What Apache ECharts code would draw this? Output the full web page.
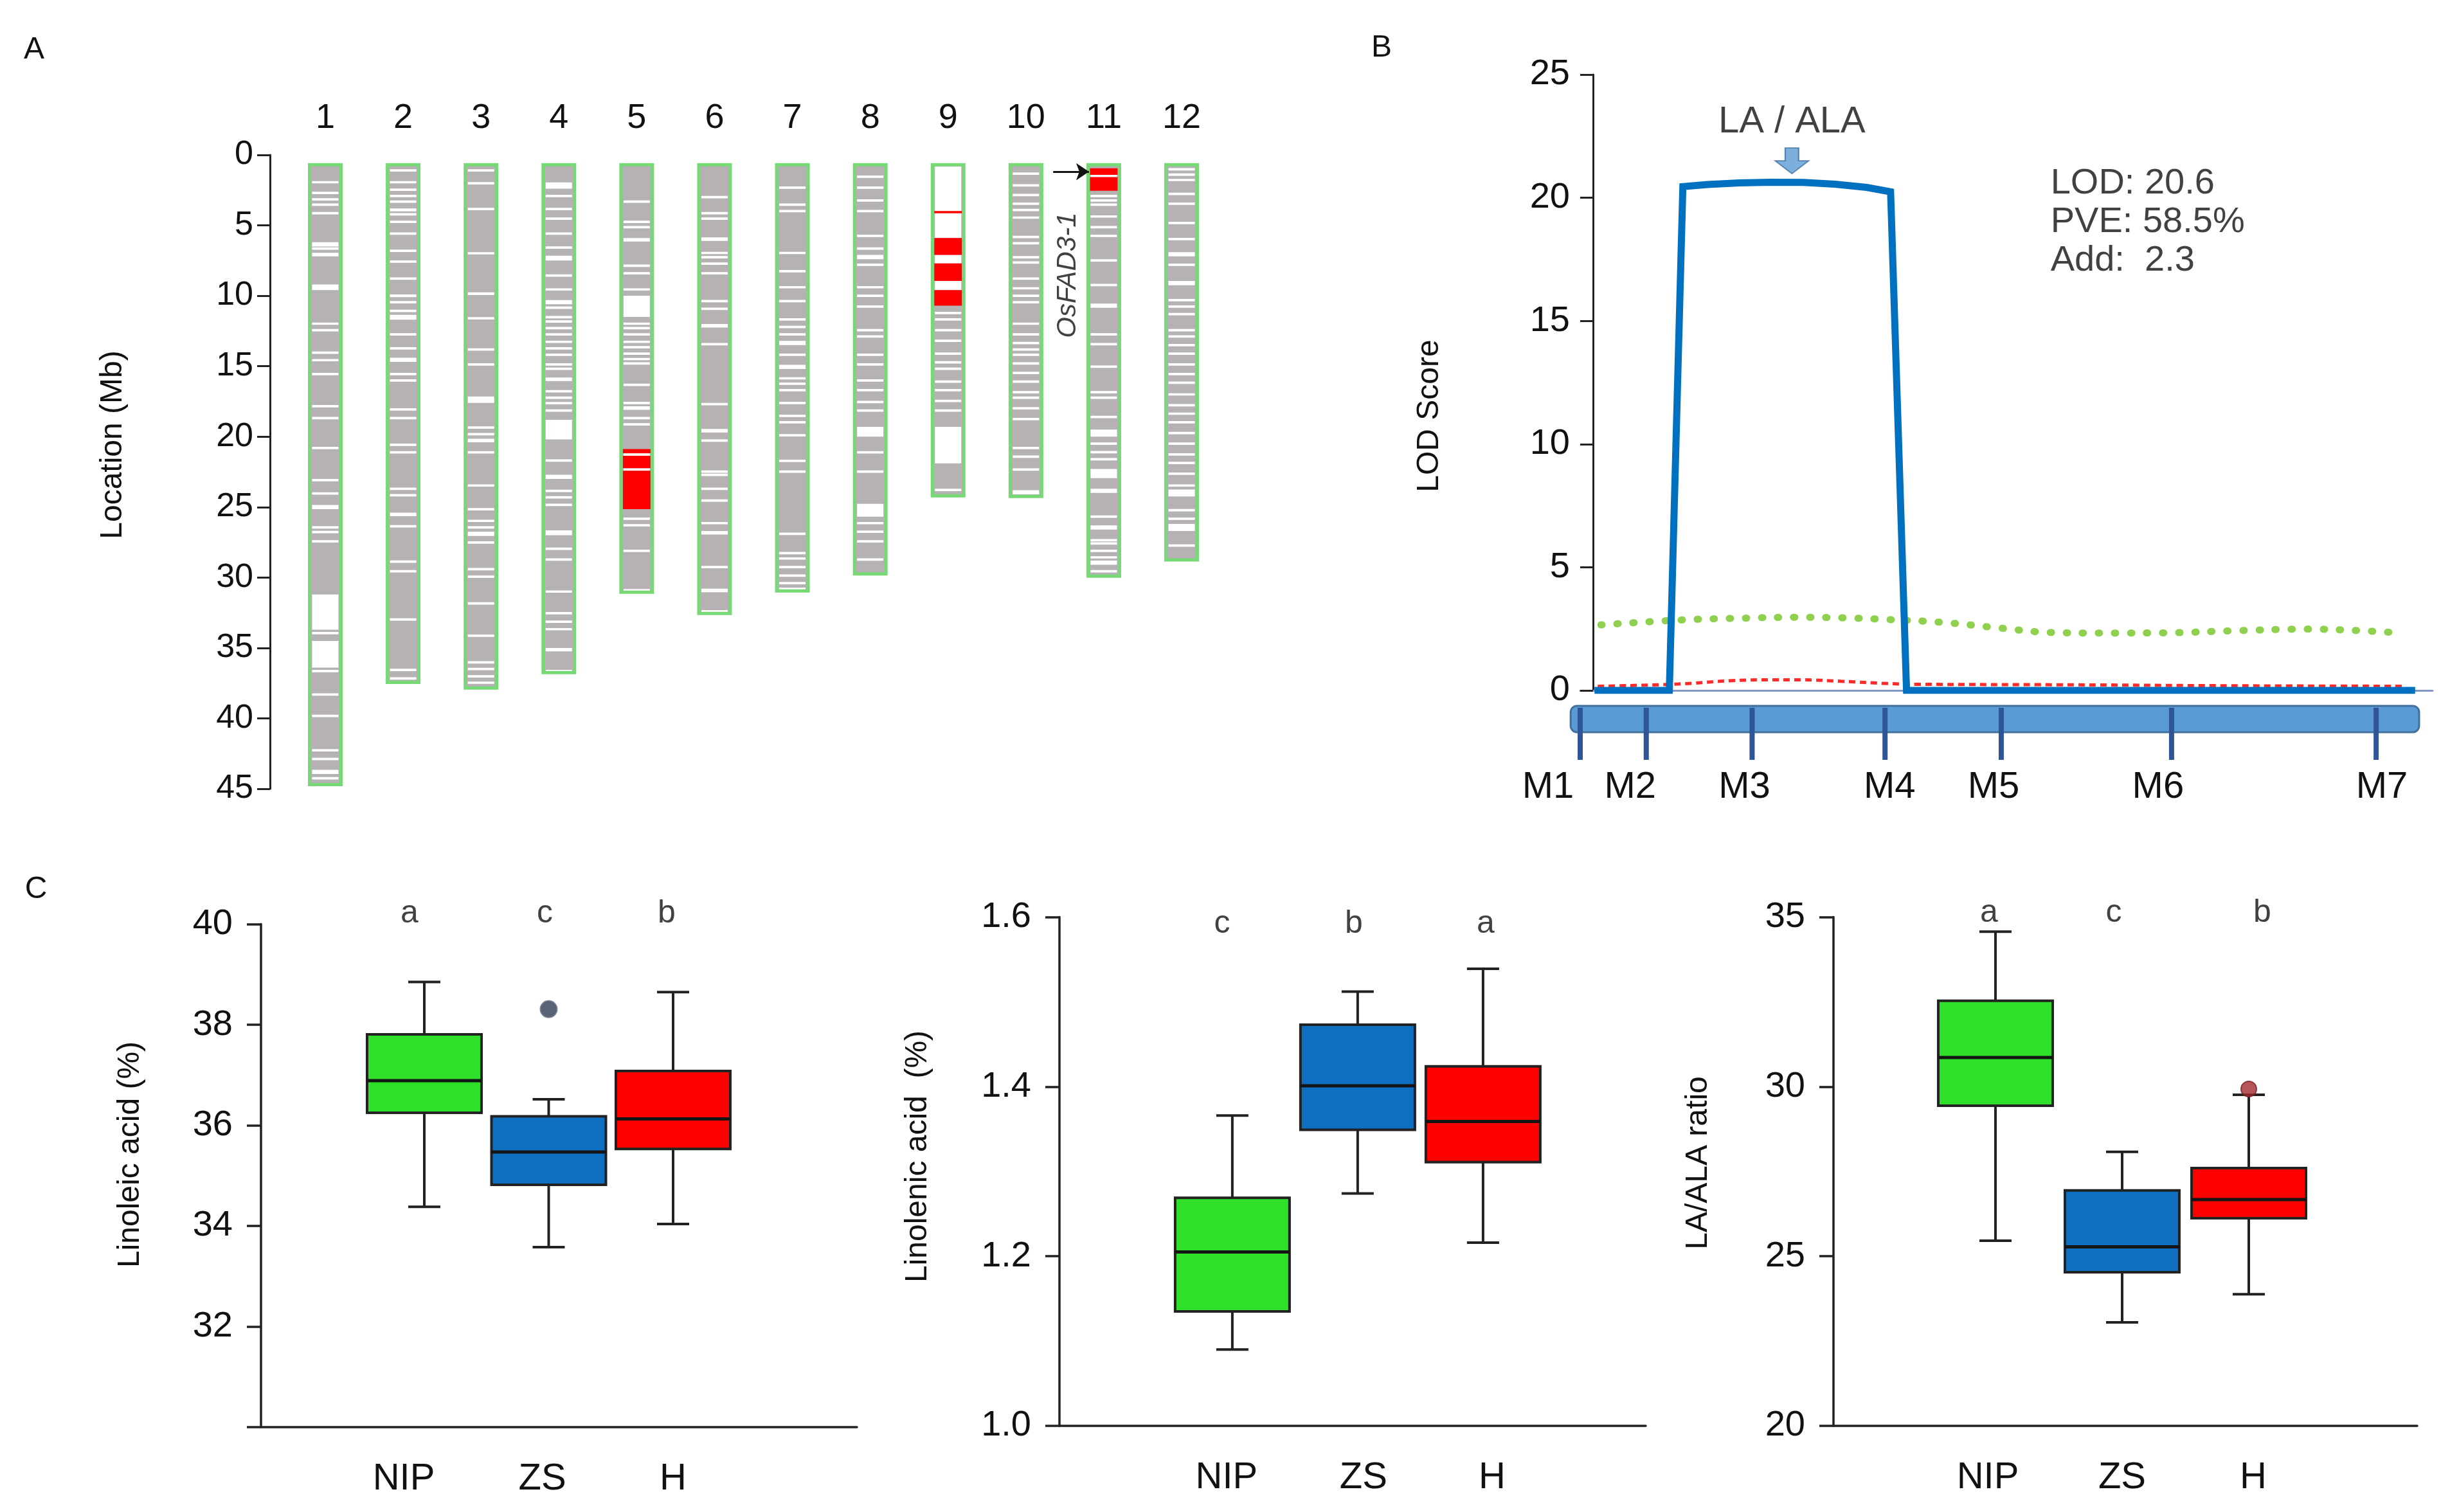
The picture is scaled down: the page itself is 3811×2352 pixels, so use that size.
<!DOCTYPE html>
<html><head><meta charset="utf-8">
<script src="https://cdn.jsdelivr.net/npm/echarts@6/dist/echarts.min.js"></script>
<style>html,body{margin:0;padding:0;background:#fff}#c{width:3811px;height:2352px}</style>
</head><body><div id="c"></div>
<script>
// ================= DATA =================
// ---- Panel A: chromosomes (Mb) ----
const chromNames = ['1','2','3','4','5','6','7','8','9','10','11','12'];
const chromStart = 0.7;
const chromEnd = [44.7, 37.45, 37.85, 36.75, 31.05, 32.55, 30.95, 29.75, 24.2, 24.25, 29.9, 28.75];
// white marker-gap stripes: single value = thin stripe centre, [a,b] = wider band
const stripesByChrom = [
 [1.94,2.70,3.15,3.53,4.14,[6.2,6.5],6.65,[6.95,7.2],[9.2,9.6],11.98,12.44,14.04,14.57,15.56,17.84,18.68,20.81,23.09,24.03,[24.85,25.15],26.44,26.77,27.43,[31.2,33.7],33.95,[34.5,36.4],36.64,38.31,39.83,42.27,42.88,[43.65,43.95],44.25],
 [1.10,1.94,2.47,2.92,3.31,[3.8,4.0],4.22,4.75,5.59,6.81,7.57,8.78,[9.9,10.1],10.46,11.07,[11.35,11.7],12.74,13.73,[14.4,14.7],15.56,16.01,18.07,18.68,20.58,21.11,23.7,24.16,[25.4,25.65],26.36,28.87,29.56,32.98,36.56,37.17],
 [1.10,2.01,3.84,[6.9,7.05],[9.75,9.95],11.60,13.81,14.87,[17.15,17.6],19.36,19.82,[20.15,20.4],21.11,23.47,25.15,25.98,26.44,[26.75,27.05],27.51,29.41,29.94,31.84,34.13,36.03,36.49,37.02,37.47],
 [[1.95,2.4],2.92,3.84,4.52,5.59,6.58,[7.15,7.5],8.56,9.55,[10.3,10.6],10.84,11.52,11.83,12.29,12.74,13.27,13.73,14.19,14.87,15.18,[15.8,16.05],16.78,17.23,17.62,18.15,[18.8,20.2],21.7,[22.7,23.0],23.85,24.31,24.84,[26.65,27.0],27.96,28.72,31.0,32.53,33.14,33.67,[35.0,35.25],36.64],
 [3.31,4.75,5.13,[5.9,6.15],7.87,8.40,9.55,[10.0,11.5],11.98,12.29,12.74,13.27,13.65,14.11,14.49,14.80,16.32,17.61,[17.85,18.1],18.68,19.13,21.27,22.33,25.83,26.29,28.11,30.9],
 [3.0,4.14,4.52,[5.85,6.1],6.96,7.26,7.72,8.40,10.38,10.92,[12.0,12.25],13.43,17.69,[19.45,19.7],20.28,22.48,22.71,23.7,24.54,26.14,[26.7,26.95],29.26,[30.8,31.05],32.4],
 [2.32,3.53,3.99,6.96,8.25,9.39,10.38,11.68,12.21,12.74,[13.2,13.5],14.19,[14.9,15.2],15.86,16.24,16.7,17.61,18.52,18.98,19.9,21.72,22.48,26.9,28.27,28.65,29.26,29.87,30.4,30.8],
 [1.55,2.32,3.23,3.99,5.74,6.65,[7.1,7.4],7.8,9.39,10.0,10.76,12.44,12.89,14.19,14.87,16.01,16.7,17.54,18.15,[19.3,20.0],21.11,22.48,[24.77,25.68],26.14,26.75,27.43,28.72],
 [[0.82,5.9],[7.1,7.7],[8.95,9.6],11.22,11.68,12.44,13.2,14.11,14.72,15.18,16.09,16.7,17.46,18.15,[19.3,21.9],23.78],
 [1.33,2.16,2.85,3.46,3.91,4.45,5.82,6.27,7.26,7.64,8.78,9.47,10.0,10.46,11.98,12.74,13.35,13.81,14.19,14.8,15.48,16.09,16.85,17.23,17.99,18.75,20.81,21.42,22.33,[23.8,24.1]],
 [1.5,2.92,3.23,3.53,4.37,5.13,5.74,7.49,9.24,[10.55,10.85],12.74,13.43,15.03,16.85,17.23,18.6,[19.5,20.0],20.5,21.1,21.6,[22.3,22.95],[23.7,24.0],25.68,[26.3,26.6],27.35,27.58,28.11,28.57,[28.8,29.1],29.56],
 [1.02,1.4,1.78,2.77,3.46,4.83,5.97,[6.9,7.2],7.8,[8.95,9.25],10.31,10.76,11.3,12.44,12.89,13.5,14.11,14.87,15.56,16.17,17.0,17.77,18.37,18.98,19.74,20.5,21.26,21.87,22.63,23.47,[23.75,24.25],25.22,25.83,[26.2,26.7],27.73]
];
const thinStripeHalf = 0.085;
// red (ZS introgression) segments: [chromosome, start, end]
const introgressions = [[5,20.88,21.18],[5,21.36,22.24],[5,22.42,25.15],[9,3.98,4.12],[9,5.9,7.1],[9,7.7,8.95],[9,9.6,10.7],[11,0.95,1.42],[11,1.58,2.54]];
const geneName = 'OsFAD3-1';
const geneArrowFrom = [10.35, 1.19];
const geneArrowTo = [10.81, 1.19];
const geneLabelAt = [10.54, 8.54];

// ---- Panel B: QTL LOD profile ----
const markerNames = ['M1','M2','M3','M4','M5','M6','M7'];
const markerPos = [0, 8.3, 21.6, 38.3, 52.9, 74.3, 100];
const barExtent = [-1.2, 105.4];
const lodPos = [1.8, 11.2, 12.9, 16, 20, 24, 28, 32, 36, 39.0, 41.0, 104.9];
const lodVal = [0, 0, 20.45, 20.54, 20.6, 20.63, 20.62, 20.55, 20.42, 20.24, 0, 0];
const greenPos = [2.6, 12.7, 20, 27.1, 33, 38.5, 45.2, 52.9, 58.6, 66, 74, 82, 91.3, 97, 102.7];
const greenVal = [2.66, 2.86, 2.93, 2.97, 2.95, 2.88, 2.77, 2.53, 2.36, 2.33, 2.34, 2.42, 2.49, 2.44, 2.34];
const redPos = [2.2, 12.3, 19.1, 24.2, 27.8, 32.8, 38.6, 42.2, 60.3, 81.8, 103.5];
const redVal = [0.17, 0.26, 0.40, 0.43, 0.43, 0.37, 0.28, 0.25, 0.23, 0.19, 0.17];
const peakLabel = 'LA / ALA';
const peakArrowAt = [26.6, 21.5];
const statLines = ['LOD: 20.6', 'PVE: 58.5%', 'Add:  2.3'];
const statAt = [59.1, 19.02];

// ---- Panel C: box plots [min, Q1, median, Q3, max] ----
const groups = ['NIP', 'ZS', 'H'];
const linoleicBox = [[34.38, 36.25, 36.89, 37.81, 38.85], [33.58, 34.82, 35.47, 36.18, 36.52], [34.04, 35.53, 36.13, 37.08, 38.65]];
const linoleicOutliers = [[2, 38.31]];
const linoleicLetters = ['a', 'c', 'b'];
const linolenicBox = [[1.090, 1.135, 1.205, 1.269, 1.366], [1.274, 1.349, 1.401, 1.473, 1.512], [1.216, 1.311, 1.359, 1.424, 1.539]];
const linolenicLetters = ['c', 'b', 'a'];
const ratioBox = [[25.46, 29.44, 30.86, 32.53, 34.57], [23.05, 24.53, 25.28, 26.94, 28.08], [23.88, 26.12, 26.67, 27.60, 29.76]];
const ratioOutliers = [[3, 29.93]];
const ratioLetters = ['a', 'c', 'b'];

// ================= STYLE / BUILD =================
const FONT = 'Liberation Sans, Arial, sans-serif';
const INK = '#111111';
const boxColors = ['#2ee02a', '#0e6fc1', '#ff0000'];
// small horizontal nudges (px) of text relative to box centres, as in the figure
const catShift = [[-32, -10, 0], [-9, 9, 14], [-12, 0, 7]];
const letterShift = [[-23, -6, -10], [-16, -6, 4], [-10, -13, 21]];

const stripeData = [];
stripesByChrom.forEach((arr, i) => arr.forEach(s => {
  const r = Array.isArray(s) ? s : [s - thinStripeHalf, s + thinStripeHalf];
  stripeData.push([i + 1, r[0], r[1]]);
}));
const chromData = chromEnd.map((e, i) => [i + 1, chromStart, e]);

function segRect(width, style) {
  return function (params, api) {
    const x = api.value(0);
    const p1 = api.coord([x, api.value(1)]);
    const p2 = api.coord([x, api.value(2)]);
    const y = Math.min(p1[1], p2[1]);
    const h = Math.max(Math.abs(p2[1] - p1[1]), 3.5);
    return { type: 'rect', shape: { x: p1[0] - width / 2, y: y, width: width, height: h }, style: style };
  };
}

function boxItem(params, api) {
  const x = api.value(0);
  const pts = [1, 2, 3, 4, 5].map(i => api.coord([x, api.value(i)]));
  const cx = pts[0][0];
  const hw = 89, cw = 25;
  const ls = { stroke: '#222', lineWidth: 4 };
  const [pMin, pQ1, pMed, pQ3, pMax] = pts;
  return {
    type: 'group', children: [
      { type: 'line', shape: { x1: cx, y1: pQ3[1], x2: cx, y2: pMax[1] }, style: ls },
      { type: 'line', shape: { x1: cx, y1: pQ1[1], x2: cx, y2: pMin[1] }, style: ls },
      { type: 'line', shape: { x1: cx - cw, y1: pMax[1], x2: cx + cw, y2: pMax[1] }, style: ls },
      { type: 'line', shape: { x1: cx - cw, y1: pMin[1], x2: cx + cw, y2: pMin[1] }, style: ls },
      { type: 'rect', shape: { x: cx - hw, y: pQ3[1], width: 2 * hw, height: pQ1[1] - pQ3[1] }, style: { fill: boxColors[params.dataIndex], stroke: '#222', lineWidth: 4 } },
      { type: 'line', shape: { x1: cx - hw, y1: pMed[1], x2: cx + hw, y2: pMed[1] }, style: { stroke: '#141414', lineWidth: 5 } }
    ]
  };
}

function shiftRich(shifts, fontSize) {
  const r = {};
  shifts.forEach((s, i) => {
    r['m' + i] = { fontSize: fontSize, fontFamily: FONT, color: INK, padding: s < 0 ? [0, -2 * s, 0, 0] : [0, 0, 0, 2 * s] };
  });
  return r;
}
const mShift = [-50, -25, -12, 7, -12, -21, 9];

function yAxisC(grid, min, max, interval, fmt) {
  return {
    gridIndex: grid, type: 'value', min: min, max: max, interval: interval,
    axisLine: { show: true, onZero: false, lineStyle: { color: '#222', width: 3.5 } },
    axisTick: { show: true, length: 22, lineStyle: { color: '#222', width: 3.5 } },
    splitLine: { show: false },
    axisLabel: { fontSize: 56, color: INK, fontFamily: FONT, margin: 44, formatter: fmt }
  };
}
function xAxisC(grid, min, max, k) {
  return {
    gridIndex: grid, type: 'value', min: min, max: max,
    axisLine: { show: true, onZero: false, lineStyle: { color: '#222', width: 3.5 } },
    axisTick: { show: false }, splitLine: { show: false },
    axisLabel: { customValues: [1, 2, 3], formatter: v => { const i = Math.round(v) - 1; return '{m' + i + '|' + groups[i] + '}'; },
      rich: shiftRich(catShift[k], 58), margin: 52 }
  };
}
function boxSeries(axis, box) {
  return { type: 'custom', xAxisIndex: axis, yAxisIndex: axis, renderItem: boxItem, encode: { x: 0, y: [1, 2, 3, 4, 5] },
    data: box.map((b, i) => [i + 1].concat(b)), z: 3 };
}
function letterSeries(axis, letters, yv, k) {
  return { type: 'scatter', xAxisIndex: axis, yAxisIndex: axis, symbolSize: 0, clip: false, silent: true,
    data: letters.map((l, i) => ({ value: [i + 1, yv], label: { offset: [letterShift[k][i], 0] } })),
    label: { show: true, position: 'inside', formatter: p => letters[p.dataIndex], fontSize: 50, color: INK, fontFamily: FONT } };
}

const option = {
  animation: false,
  backgroundColor: '#ffffff',
  textStyle: { fontFamily: FONT, color: INK },
  grid: [
    { left: 420, top: 241, width: 1478.6, height: 986, outerBoundsMode: 'none' },
    { left: 2458, top: 116, width: 1326, height: 958, outerBoundsMode: 'none' },
    { left: 406, top: 1437.6, width: 927, height: 782.4, outerBoundsMode: 'none' },
    { left: 1648, top: 1426.5, width: 912, height: 791.5, outerBoundsMode: 'none' },
    { left: 2852, top: 1426.5, width: 908, height: 791.5, outerBoundsMode: 'none' }
  ],
  xAxis: [
    { gridIndex: 0, type: 'value', min: 0.29, max: 12.5, position: 'top',
      axisLine: { show: false, onZero: false }, axisTick: { show: false }, splitLine: { show: false },
      axisLabel: { customValues: [1,2,3,4,5,6,7,8,9,10,11,12], formatter: v => chromNames[Math.round(v) - 1], fontSize: 54, color: INK, fontFamily: FONT, margin: 30 } },
    { gridIndex: 1, type: 'value', min: 0, max: 107.1,
      axisLine: { show: true, onZero: false, lineStyle: { color: '#8497c8', width: 3 } },
      axisTick: { show: false }, splitLine: { show: false },
      axisLabel: { customValues: markerPos, showMinLabel: true, showMaxLabel: true,
        formatter: v => { const i = markerPos.indexOf(v); return '{m' + i + '|' + markerNames[i] + '}'; },
        rich: shiftRich(mShift, 58), margin: 122 } },
    xAxisC(2, -0.3127, 4.478, 0),
    xAxisC(3, -0.379, 4.298, 1),
    xAxisC(4, -0.279, 4.330, 2)
  ],
  yAxis: [
    { gridIndex: 0, type: 'value', inverse: true, min: 0, max: 45, interval: 5,
      axisLine: { show: true, onZero: false, lineStyle: { color: '#222', width: 3 } },
      axisTick: { show: true, length: 20, lineStyle: { color: '#222', width: 3 } },
      splitLine: { show: false },
      axisLabel: { fontSize: 52, color: INK, fontFamily: FONT, margin: 26 } },
    { gridIndex: 1, type: 'value', min: 0, max: 25, interval: 5, offset: -20,
      axisLine: { show: true, onZero: false, lineStyle: { color: '#222', width: 3 } },
      axisTick: { show: true, length: 20, lineStyle: { color: '#222', width: 3 } },
      splitLine: { show: false },
      axisLabel: { fontSize: 56, color: INK, fontFamily: FONT, margin: 36 } },
    yAxisC(2, 30, 40, 2, v => (v === 30 ? '' : String(v))),
    yAxisC(3, 1.0, 1.6, 0.2, v => v.toFixed(1)),
    yAxisC(4, 20, 35, 5, v => String(v))
  ],
  graphic: [
    { type: 'text', x: 53, y: 78, style: { text: 'A', fontSize: 48, fontFamily: FONT, fill: INK, textAlign: 'center', textVerticalAlign: 'middle' } },
    { type: 'text', x: 2149, y: 75, style: { text: 'B', fontSize: 48, fontFamily: FONT, fill: INK, textAlign: 'center', textVerticalAlign: 'middle' } },
    { type: 'text', x: 56, y: 1384, style: { text: 'C', fontSize: 48, fontFamily: FONT, fill: INK, textAlign: 'center', textVerticalAlign: 'middle' } },
    { type: 'text', x: 176, y: 692, rotation: Math.PI / 2, style: { text: 'Location (Mb)', fontSize: 48, fontFamily: FONT, fill: INK, textAlign: 'center', textVerticalAlign: 'middle' } },
    { type: 'text', x: 2224, y: 647, rotation: Math.PI / 2, style: { text: 'LOD Score', fontSize: 48, fontFamily: FONT, fill: INK, textAlign: 'center', textVerticalAlign: 'middle' } },
    { type: 'text', x: 203, y: 1796, rotation: Math.PI / 2, style: { text: 'Linoleic acid (%)', fontSize: 48, fontFamily: FONT, fill: INK, textAlign: 'center', textVerticalAlign: 'middle' } },
    { type: 'text', x: 1428, y: 1799, rotation: Math.PI / 2, style: { text: 'Linolenic acid  (%)', fontSize: 48, fontFamily: FONT, fill: INK, textAlign: 'center', textVerticalAlign: 'middle' } },
    { type: 'text', x: 2642, y: 1809, rotation: Math.PI / 2, style: { text: 'LA/ALA ratio', fontSize: 48, fontFamily: FONT, fill: INK, textAlign: 'center', textVerticalAlign: 'middle' } }
  ],
  series: [
    // ---- Panel A ----
    { type: 'custom', xAxisIndex: 0, yAxisIndex: 0, encode: { x: 0, y: [1, 2] }, data: chromData,
      renderItem: segRect(49, { fill: '#b6b2b4' }), z: 2 },
    { type: 'custom', xAxisIndex: 0, yAxisIndex: 0, encode: { x: 0, y: [1, 2] }, data: stripeData,
      renderItem: segRect(41, { fill: '#ffffff' }), z: 3 },
    { type: 'custom', xAxisIndex: 0, yAxisIndex: 0, encode: { x: 0, y: [1, 2] }, data: introgressions,
      renderItem: segRect(43, { fill: '#ff0000' }), z: 4 },
    { type: 'custom', xAxisIndex: 0, yAxisIndex: 0, encode: { x: 0, y: [1, 2] }, data: chromData,
      renderItem: segRect(49, { fill: 'none', stroke: '#76d976', lineWidth: 5 }), z: 5 },
    { type: 'lines', coordinateSystem: 'cartesian2d', xAxisIndex: 0, yAxisIndex: 0, z: 6,
      symbol: ['none', 'arrow'], symbolSize: 20,
      lineStyle: { color: '#111', width: 3, opacity: 1 },
      data: [{ coords: [geneArrowFrom, geneArrowTo] }] },
    { type: 'scatter', xAxisIndex: 0, yAxisIndex: 0, symbolSize: 0, clip: false, silent: true, data: [geneLabelAt], z: 6,
      label: { show: true, position: 'inside', rotate: 90, formatter: geneName, fontStyle: 'italic', fontSize: 42, color: INK, fontFamily: FONT } },

    // ---- Panel B ----
    { type: 'custom', xAxisIndex: 1, yAxisIndex: 1, data: [barExtent], z: 1,
      renderItem: function (params, api) {
        const p1 = api.coord([api.value(0), 0]);
        const p2 = api.coord([api.value(1), 0]);
        return { type: 'rect', shape: { x: p1[0], y: p1[1] + 24, width: p2[0] - p1[0], height: 41, r: 10 },
          style: { fill: '#5b9bd5', stroke: '#41719c', lineWidth: 3 } };
      } },
    { type: 'custom', xAxisIndex: 1, yAxisIndex: 1, data: markerPos.map(p => [p, 0]), z: 2,
      renderItem: function (params, api) {
        const p = api.coord([api.value(0), 0]);
        return { type: 'line', shape: { x1: p[0], y1: p[1] + 27, x2: p[0], y2: p[1] + 108 },
          style: { stroke: '#2f5597', lineWidth: 8 } };
      } },
    { type: 'line', xAxisIndex: 1, yAxisIndex: 1, showSymbol: false, smooth: 0.4, z: 3,
      data: greenPos.map((p, i) => [p, greenVal[i]]),
      lineStyle: { color: '#8fd14f', width: 11, type: [2, 23], cap: 'round' } },
    { type: 'line', xAxisIndex: 1, yAxisIndex: 1, showSymbol: false, smooth: 0.4, z: 3,
      data: redPos.map((p, i) => [p, redVal[i]]),
      lineStyle: { color: '#ff2a2a', width: 5, type: [10, 7] } },
    { type: 'line', xAxisIndex: 1, yAxisIndex: 1, showSymbol: false, z: 4,
      data: lodPos.map((p, i) => [p, lodVal[i]]),
      lineStyle: { color: '#0070c0', width: 11, join: 'miter' } },
    { type: 'scatter', xAxisIndex: 1, yAxisIndex: 1, clip: false, silent: true, z: 5,
      symbol: 'path://M30,0 L70,0 L70,50 L100,50 L50,100 L0,50 L30,50 Z', symbolSize: [52, 40],
      itemStyle: { color: '#5b9bd5', borderColor: '#41719c', borderWidth: 2 },
      data: [peakArrowAt],
      label: { show: true, position: 'top', distance: 10, formatter: peakLabel, fontSize: 58, color: INK, fontFamily: FONT } },
    { type: 'scatter', xAxisIndex: 1, yAxisIndex: 1, clip: false, silent: true, symbolSize: 0, z: 5,
      data: [statAt],
      label: { show: true, position: 'right', distance: 0, align: 'left', verticalAlign: 'middle', lineHeight: 60,
        formatter: statLines.join('\n'), fontSize: 56, color: INK, fontFamily: FONT } },

    // ---- Panel C ----
    boxSeries(2, linoleicBox),
    boxSeries(3, linolenicBox),
    boxSeries(4, ratioBox),
    { type: 'scatter', xAxisIndex: 2, yAxisIndex: 2, symbolSize: 26, z: 4, data: linoleicOutliers,
      itemStyle: { color: '#2e3c55', borderColor: '#6b7584', borderWidth: 2 } },
    { type: 'scatter', xAxisIndex: 4, yAxisIndex: 4, symbolSize: 24, z: 4, data: ratioOutliers,
      itemStyle: { color: '#a02b30', borderColor: '#7a1e22', borderWidth: 2 } },
    letterSeries(2, linoleicLetters, 40.21, 0),
    letterSeries(3, linolenicLetters, 1.592, 1),
    letterSeries(4, ratioLetters, 35.12, 2)
  ]
};

const chart = echarts.init(document.getElementById('c'), null, { renderer: 'canvas', width: 3811, height: 2352 });
chart.setOption(option);
</script>
</body></html>
